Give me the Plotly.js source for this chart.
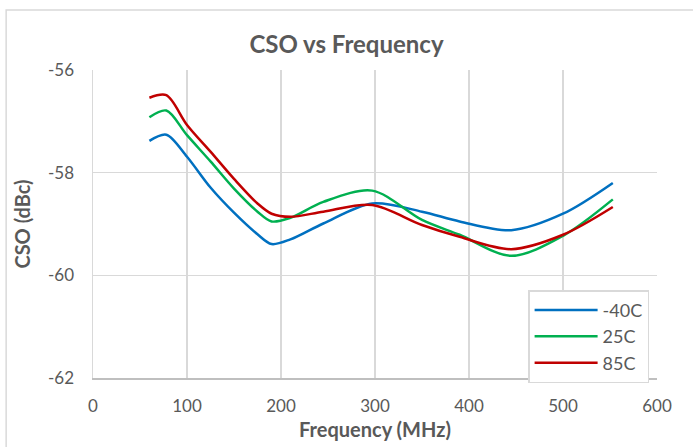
<!DOCTYPE html>
<html>
<head>
<meta charset="utf-8">
<script src="https://cdn.plot.ly/plotly-3.0.1.min.js"></script>
<style>html,body{margin:0;padding:0;background:#fff;}#chart{width:693px;height:447px;}</style>
</head>
<body>
<div id="chart"></div>
<script>
const freq = [60, 78, 100, 125, 150, 175, 190, 210, 245, 297, 350, 390, 445, 500, 553];
const cso_m40 = [-57.38, -57.26, -57.69, -58.29, -58.78, -59.20, -59.39, -59.30, -58.99, -58.60, -58.76, -58.95, -59.12, -58.80, -58.20];
const cso_25 = [-56.92, -56.79, -57.27, -57.78, -58.31, -58.76, -58.95, -58.88, -58.57, -58.35, -58.92, -59.21, -59.62, -59.23, -58.52];
const cso_85 = [-56.54, -56.49, -57.07, -57.59, -58.12, -58.60, -58.80, -58.86, -58.76, -58.63, -59.02, -59.25, -59.49, -59.21, -58.67];
const seriesNames = ['-40C', '25C', '85C'];
const colors = ['#0070C0', '#00B050', '#C00000'];
const xTicks = [0, 100, 200, 300, 400, 500, 600];
const yTicks = [-62, -60, -58, -56];

const font = 'Lato, "Open Sans", sans-serif';
const gray = '#595959';
const data = [cso_m40, cso_25, cso_85].map((ys, i) => ({
  x: freq, y: ys, name: seriesNames[i], type: 'scatter', mode: 'lines',
  line: {color: colors[i], width: 2.5, shape: 'spline', smoothing: 0.9}
}));

const layout = {
  width: 693, height: 447,
  margin: {l: 93, r: 36, t: 70, b: 69},
  paper_bgcolor: '#fff', plot_bgcolor: '#fff',
  font: {family: font, color: gray, size: 17},
  title: {text: '<b>CSO vs Frequency</b>', font: {family: font, size: 24, color: gray}, x: 0.5, xanchor: 'center', y: 0.9, yanchor: 'middle', yref: 'container'},
  xaxis: {
    range: [0, 600], tickvals: xTicks, ticktext: xTicks.map(String),
    showgrid: true, gridcolor: '#d9d9d9', gridwidth: 1.5, zeroline: false,
    showline: true, linecolor: '#bfbfbf', linewidth: 1.5, ticks: '',
    ticklabelstandoff: 12,
    tickfont: {family: font, size: 17, color: gray},
    title: {text: '<b>Frequency (MHz)</b>', font: {family: font, size: 20, color: gray}, standoff: 8}
  },
  yaxis: {
    range: [-62, -56], tickvals: yTicks, ticktext: yTicks.map(String),
    showgrid: true, gridcolor: '#d9d9d9', gridwidth: 1.5, zeroline: false,
    showline: true, linecolor: '#d9d9d9', linewidth: 1.5, ticks: '',
    ticklabelstandoff: 14,
    tickfont: {family: font, size: 17, color: gray},
    title: {text: '<b>CSO (dBc)</b>', font: {family: font, size: 20, color: gray}, standoff: 12}
  },
  legend: {
    x: 0.986, xanchor: 'right', y: 0.285, yanchor: 'top',
    bordercolor: '#d9d9d9', borderwidth: 1.5, bgcolor: '#fff',
    font: {family: font, size: 18, color: gray},
    itemwidth: 63
  },
  shapes: [{
    type: 'rect', xref: 'paper', yref: 'paper',
    x0: -0.154, x1: 1.2, y0: -0.4, y1: 1.195,
    line: {color: '#d9d9d9', width: 1.5}, fillcolor: 'rgba(0,0,0,0)', layer: 'below'
  }],
  showlegend: true
};
Plotly.newPlot('chart', data, layout, {staticPlot: true, displayModeBar: false});
</script>
</body>
</html>
